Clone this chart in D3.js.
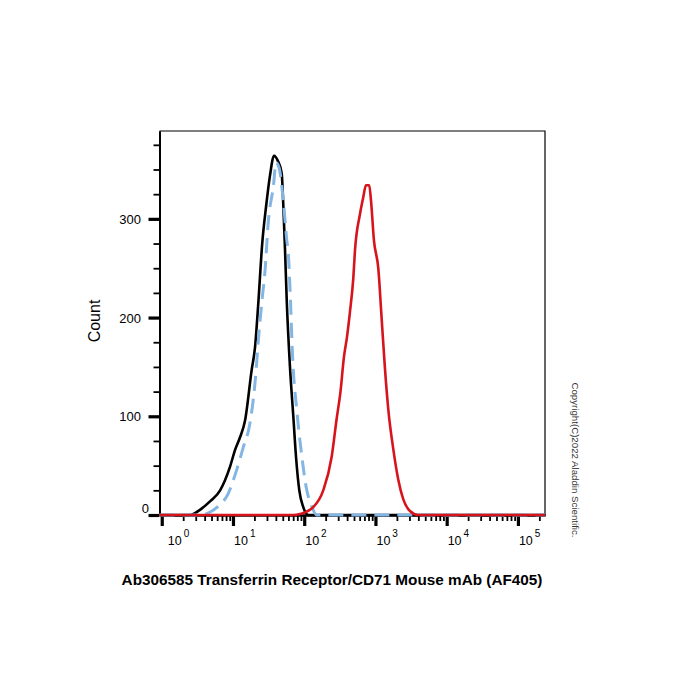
<!DOCTYPE html>
<html>
<head>
<meta charset="utf-8">
<script src="https://cdn.jsdelivr.net/npm/d3@7"></script>
<style>
  body { margin: 0; background: #fff; }
  text { font-family: "Liberation Sans", Arial, sans-serif; }
</style>
</head>
<body>
<div id="chart"></div>
<script>
// Intensity (x) and count (y) for each histogram
const isoX   = [0.93, 2.5, 3.4, 4.8, 6.6, 9.1, 10.7, 12.6, 14.8, 18.3, 20.4, 22.5, 25.8, 29.1, 33.1, 37.7, 42.5, 48.3, 50.8, 53.7, 56.8, 63.1, 70.3, 76.7, 85.3, 97, 114, 240000];
const isoY   = [0, 0, 5, 14, 25, 49, 66, 79, 96, 147, 170, 211, 276, 312, 344, 364, 359, 346, 315, 270, 218, 150, 100, 59, 25, 8, 0, 0];

const blankX = [0.93, 3.4, 4.8, 6.0, 8.6, 11.3, 14.0, 17.3, 20.4, 23.2, 25.6, 28.0, 31.4, 36.9, 40.2, 44.3, 50.8, 56.8, 59.8, 63.1, 68.9, 78.5, 92.3, 108, 127, 150, 240000];
const blankY = [0, 0, 3, 8, 22, 46, 69, 93, 134, 185, 218, 245, 298, 333, 357, 352, 319, 279, 265, 230, 158, 107, 60, 26, 9, 0, 0];

const abX    = [0.93, 70, 87.3, 134, 185, 243, 286, 323, 361, 398, 439, 489, 516, 607, 675, 736, 818, 865, 953, 1096, 1222, 1361, 1514, 1778, 2089, 2455, 3048, 3990, 240000];
const abY    = [0, 0, 1, 8, 25, 59, 98, 125, 160, 180, 206, 240, 268, 305, 322, 334, 334, 319, 278, 250, 199, 148, 107, 67, 36, 16, 4, 0, 0];

const xMajor = [1, 10, 100, 1000, 10000, 100000];
const yMajor = [0, 100, 200, 300];

const svg = d3.select("#chart")
  .append("svg")
  .attr("width", 700)
  .attr("height", 700);

const x = d3.scaleLog().domain([0.93, 240000]).range([159.5, 545]);
const y = d3.scaleLinear().domain([0, 389]).range([515, 131]);

// minor ticks: 2..9 in every decade, 25 steps on y
const xMinor = [];
xMajor.forEach(m => { for (let k = 2; k <= 9; k++) if (m * k <= 240000) xMinor.push(m * k); });
const yMinor = d3.range(25, 389, 25).filter(v => v % 100 !== 0);

// frame (top + right)
svg.append("path")
  .attr("d", `M${x.range()[0]},${y(389)}H${x(240000)}V${y(0)}`)
  .attr("fill", "none")
  .attr("stroke", "#000")
  .attr("stroke-width", 1.2);

// x axis
const gx = svg.append("g").attr("transform", `translate(0,${y(0)})`);
gx.append("g").call(d3.axisBottom(x).tickValues(xMinor).tickSize(6).tickSizeOuter(0).tickFormat(""))
  .call(g => g.selectAll("line").attr("stroke-width", 1.8));
gx.append("g").call(d3.axisBottom(x).tickValues(xMajor).tickSize(11).tickSizeOuter(0).tickFormat(""))
  .call(g => g.selectAll("line").attr("stroke-width", 3.2));
gx.selectAll(".domain").attr("stroke-width", 2);

xMajor.forEach((v, i) => {
  const t = svg.append("text")
    .attr("x", x(v) + 1 + (i === 0 ? 5 : 0))
    .attr("y", 545)
    .attr("font-size", 12.5);
  t.append("tspan").text("10");
  t.append("tspan").attr("dx", 2).attr("dy", -8).attr("font-size", 10).text(Math.log10(v));
});

// y axis
const gy = svg.append("g").attr("transform", `translate(${x.range()[0]},0)`);
gy.append("g").call(d3.axisLeft(y).tickValues(yMinor).tickSize(6).tickSizeOuter(0).tickFormat(""))
  .call(g => g.selectAll("line").attr("stroke-width", 1.8));
gy.append("g").call(d3.axisLeft(y).tickValues(yMajor).tickSize(11).tickSizeOuter(0).tickFormat(""))
  .call(g => g.selectAll("line").attr("stroke-width", 3.2));
gy.selectAll(".domain").attr("stroke-width", 2);

yMajor.forEach(v => {
  svg.append("text")
    .attr("x", v === 0 ? 149 : 141)
    .attr("y", v === 0 ? y(v) - 2 : y(v) + 5)
    .attr("text-anchor", "end")
    .attr("font-size", 13)
    .text(v);
});

// histograms
const line = d3.line().x(d => x(d[0])).y(d => y(d[1])).curve(d3.curveMonotoneX);

svg.append("path")
  .datum(d3.zip(isoX, isoY))
  .attr("d", line)
  .attr("fill", "none")
  .attr("stroke", "#000")
  .attr("stroke-width", 2.6)
  .attr("stroke-linejoin", "round");

svg.append("path")
  .datum(d3.zip(blankX, blankY))
  .attr("d", line)
  .attr("fill", "none")
  .attr("stroke", "#84b6e4")
  .attr("stroke-width", 3)
  .attr("stroke-dasharray", "15,8");

svg.append("path")
  .datum(d3.zip(abX, abY))
  .attr("d", line)
  .attr("fill", "none")
  .attr("stroke", "#d7141c")
  .attr("stroke-width", 2.6)
  .attr("stroke-linejoin", "round");

// labels
svg.append("text")
  .attr("transform", "translate(100,321) rotate(-90)")
  .attr("text-anchor", "middle")
  .attr("font-size", 16)
  .text("Count");

svg.append("text")
  .attr("x", 332)
  .attr("y", 585)
  .attr("text-anchor", "middle")
  .attr("font-size", 15.3)
  .attr("font-weight", "bold")
  .text("Ab306585 Transferrin Receptor/CD71 Mouse mAb (AF405)");

svg.append("text")
  .attr("transform", "translate(572,460) rotate(90)")
  .attr("text-anchor", "middle")
  .attr("font-size", 9.7)
  .attr("fill", "#333")
  .text("Copyright(C)2022 Aladdin Scientific.");
</script>
</body>
</html>
